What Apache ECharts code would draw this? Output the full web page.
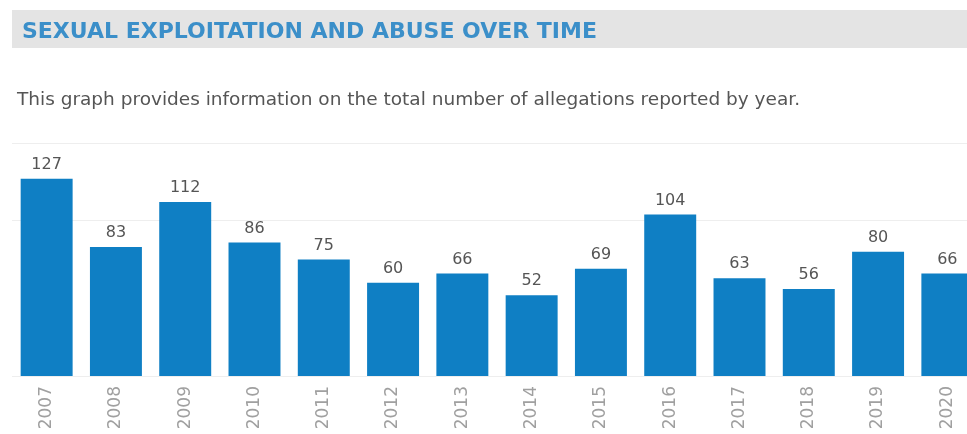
<!DOCTYPE html>
<html>
<head>
<meta charset="utf-8">
<script src="https://cdn.jsdelivr.net/npm/echarts@6/dist/echarts.min.js"></script>
<style>
html,body{margin:0;padding:0;background:#fff;}
#main{width:967px;height:434px;}
</style>
</head>
<body>
<div id="main"></div>
<script>
const years = ['2007','2008','2009','2010','2011','2012','2013','2014','2015','2016','2017','2018','2019','2020'];
const allegations = [127, 83, 112, 86, 75, 60, 66, 52, 69, 104, 63, 56, 80, 66];
const titleText = 'SEXUAL EXPLOITATION AND ABUSE OVER TIME';
const subtitleText = 'This graph provides information on the total number of allegations reported by year.';

const chart = echarts.init(document.getElementById('main'));
chart.setOption({
  animation: false,
  backgroundColor: '#ffffff',
  graphic: [
    { type: 'rect', left: 12, top: 10, shape: { width: 960, height: 38 }, style: { fill: '#e4e4e4' }, z: -1 },
    { type: 'text', left: 22, top: 21, style: { text: titleText, fill: '#3b8fc9', font: 'bold 22px "DejaVu Sans", sans-serif' } },
    { type: 'text', left: 17, top: 91, style: { text: subtitleText, fill: '#555555', font: '18.5px "DejaVu Sans", sans-serif' } }
  ],
  grid: { left: 12, width: 970, top: 143, height: 233, containLabel: false, outerBoundsMode: 'none' },
  xAxis: {
    type: 'category',
    data: years,
    axisLine: { show: false },
    axisTick: { show: false },
    axisLabel: { rotate: 90, color: '#a0a0a0', fontSize: 17, fontFamily: 'DejaVu Sans, sans-serif', margin: 10, interval: 0 }
  },
  yAxis: {
    type: 'value',
    min: 0,
    max: 150,
    interval: 100,
    axisLine: { show: false },
    axisTick: { show: false },
    axisLabel: { show: false },
    splitLine: { show: true, lineStyle: { color: '#eeeeee', width: 1 } }
  },
  series: [{
    type: 'bar',
    data: allegations,
    barCategoryGap: '25%',
    itemStyle: { color: '#0f7fc4' },
    label: { show: true, position: 'top', distance: 6, color: '#555555', fontSize: 16, fontFamily: 'DejaVu Sans, sans-serif' }
  }]
});
</script>
</body>
</html>
